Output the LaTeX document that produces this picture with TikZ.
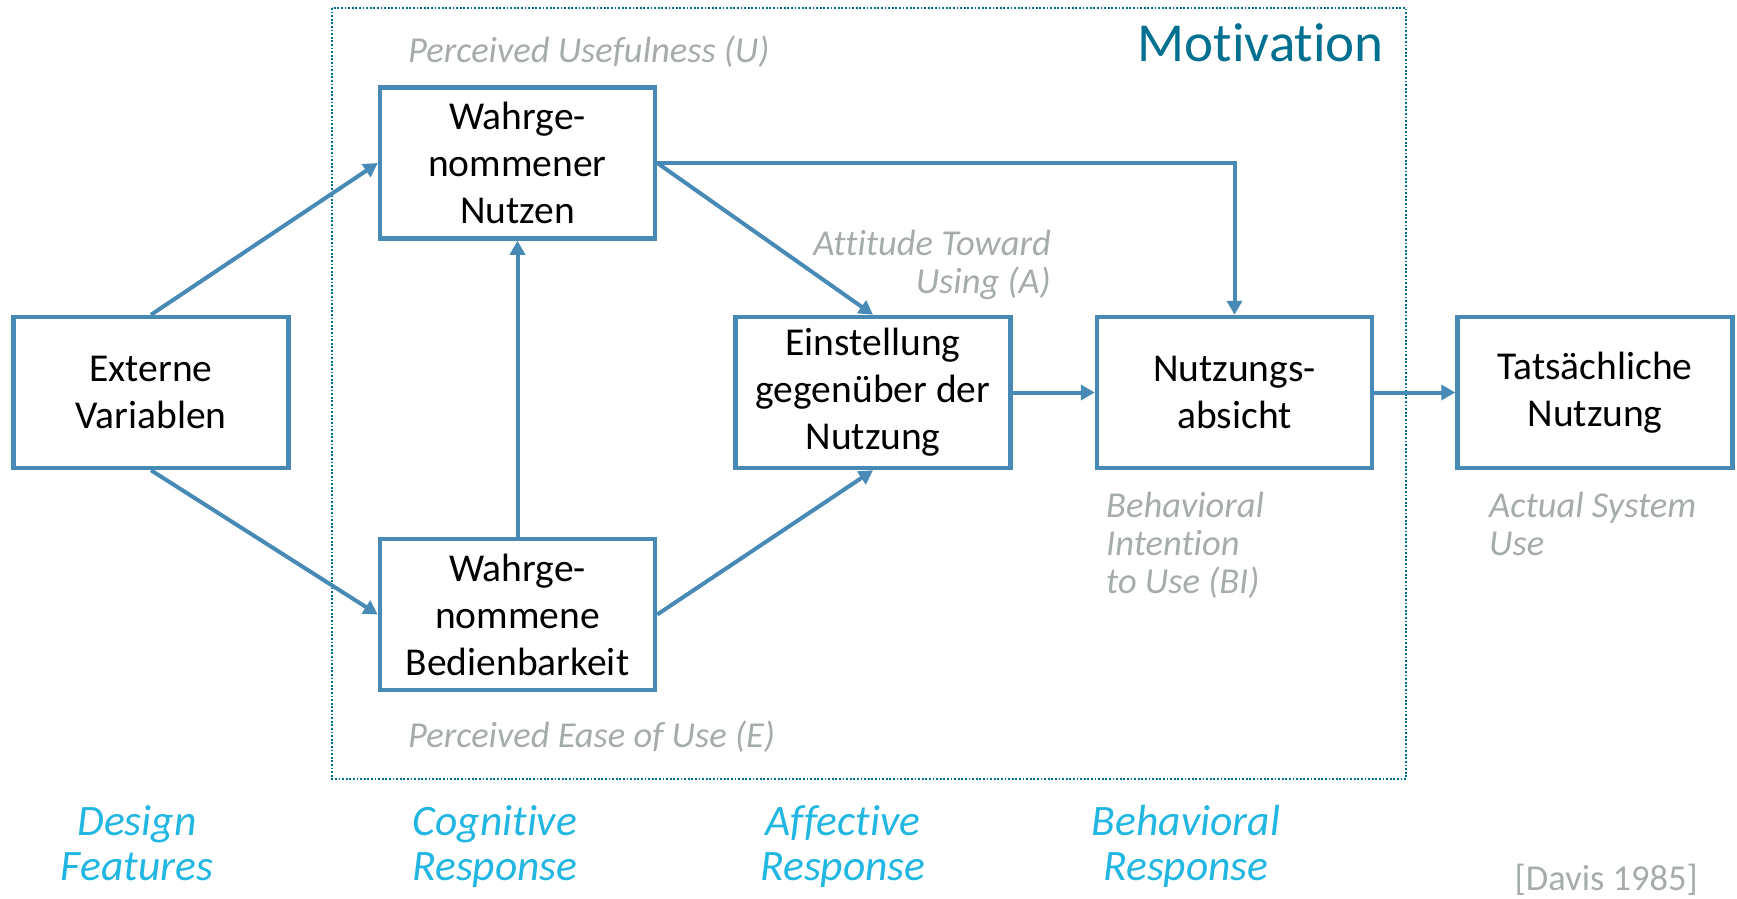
\documentclass[tikz,border=0pt]{standalone}
\usepackage{fontspec}
\setmainfont{Carlito}[Ligatures=NoCommon]
\usetikzlibrary{arrows.meta}
\definecolor{boxblue}{RGB}{70,138,181}
\definecolor{motteal}{RGB}{0,112,145}
\definecolor{labelgrey}{RGB}{166,172,172}
\definecolor{phasecyan}{RGB}{34,182,226}
\tikzset{
  tambox/.style={draw=boxblue, line width=4.5pt, fill=white,
    minimum width=275pt, minimum height=151pt, inner sep=0pt,
    align=center, font=\fontsize{39.5}{47}\selectfont},
  conn/.style={draw=boxblue, line width=4pt,
    -{Triangle[length=14pt,width=15pt]}},
  greylabel/.style={text=labelgrey, inner sep=0pt,
    font=\fontsize{36.5}{38}\selectfont\itshape},
  phaselabel/.style={text=phasecyan, inner sep=0pt, align=center,
    font=\fontsize{43.5}{45}\selectfont\itshape},
  motframe/.style={draw=motteal, line width=1.8pt,
    dash pattern=on 1.8pt off 1.8pt}
}
\begin{document}
\begin{tikzpicture}[x=1pt,y=-1pt]
\useasboundingbox (0,0) rectangle (1737,899);

% dotted frame of the motivation area
\coordinate (mtl) at (332,8);
\coordinate (mbr) at (1406,779);
\draw[motframe] (mtl) rectangle (mbr);
\node[anchor=base east, inner sep=0pt, text=motteal,
  font=\fontsize{55}{60}\selectfont] (mot) at (1384,62) {Motivation};

% model constructs
\node[tambox] (ext) at (151,392.5) {Externe\\Variablen};
\node[tambox] (pu)  at (517.5,163) {Wahrge-\\nommener\\Nutzen};
\node[tambox] (peu) at (517.5,614.5) {Wahrge-\\nommene\\Bedienbarkeit};
\node[tambox] (att) at (873,392.5) {Einstellung\\gegenüber der\\Nutzung};
\node[tambox] (bi)  at (1234.5,392.5) {Nutzungs-\\absicht};
\node[tambox] (use) at (1595,392.5) {Tatsächliche\\Nutzung};

% relations
\draw[conn] (ext.north) -- (pu.west);
\draw[conn] (ext.south) -- (peu.west);
\draw[conn] (peu.north) -- (pu.south);
\draw[conn] (pu.east) -- (att.north);
\draw[conn] (peu.east) -- (att.south);
\draw[conn] (pu.east) -| (bi.north);
\draw[conn] (att.east) -- (bi.west);
\draw[conn] (bi.east) -- (use.west);

% English construct names (base anchor = baseline of the last line)
\node[greylabel, anchor=base west] (lu) at (408,63) {Perceived Usefulness (U)};
\node[greylabel, anchor=base west] (le) at (408,747) {Perceived Ease of Use (E)};
\node[greylabel, anchor=base east, align=right] (la) at (1051,293) {Attitude Toward\\Using (A)};
\node[greylabel, anchor=base west, align=left] (lbi) at (1106,593) {Behavioral\\Intention\\to Use (BI)};
\node[greylabel, anchor=base west, align=left] (lasu) at (1489,555) {Actual System\\Use};

% response phases
\node[phaselabel, anchor=base] (ph1) at (137,880) {Design\\Features};
\node[phaselabel, anchor=base] (ph2) at (495,880) {Cognitive\\Response};
\node[phaselabel, anchor=base] (ph3) at (843,880) {Affective\\Response};
\node[phaselabel, anchor=base] (ph4) at (1186,880) {Behavioral\\Response};

\node[anchor=base east, inner sep=0pt, text=labelgrey,
  font=\fontsize{36.5}{38}\selectfont] (src) at (1698,890) {[Davis 1985]};
\end{tikzpicture}
\end{document}
